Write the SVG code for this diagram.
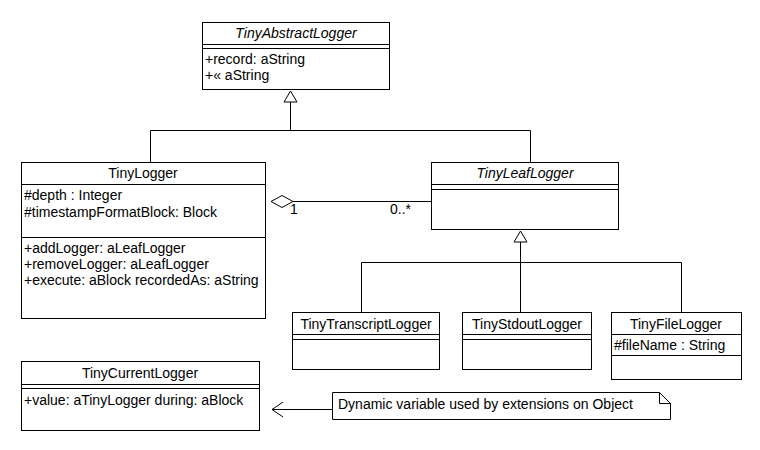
<svg xmlns="http://www.w3.org/2000/svg" width="760" height="450" viewBox="0 0 760 450">
<style>
.box{fill:#fff;stroke:#000;stroke-width:1}
.ln{fill:none;stroke:#000;stroke-width:1}
.t{font-family:"Liberation Sans",Arial,sans-serif;font-size:14px;fill:#000}
.c{text-anchor:middle}
.i{font-style:italic}
</style>
<rect width="760" height="450" fill="#fff"/>
<g id="connectors">
<path class="ln" d="M290.5,102 V130.5 M150.5,162 V130.5 H530.5 V162"/>
<polygon class="box" points="290.5,91 284,102 297,102"/>
<path class="ln" d="M520.5,242 V262.5 M361.5,312 V262.5 H681.5 V312 M520.5,262.5 V312"/>
<polygon class="box" points="520.5,231 514,242 527,242"/>
<path class="ln" d="M293,201.5 H431"/>
<polygon class="box" points="271,201.5 282,195.5 293,201.5 282,207.5"/>
<text class="t" x="290" y="214">1</text>
<text class="t" x="390" y="214">0..*</text>
<path class="ln" d="M332,409.5 H272 M283,402 L272,409.5 L283,417"/>
</g>
<g id="TinyAbstractLogger">
<rect class="box" x="202.5" y="22.5" width="187" height="67"/>
<path class="ln" d="M202.5,44.5 H389.5 M202.5,48.5 H389.5"/>
<text class="t c i" x="296" y="38">TinyAbstractLogger</text>
<text class="t" x="205" y="64">+record: aString</text>
<text class="t" x="205" y="80">+« aString</text>
</g>
<g id="TinyLogger">
<rect class="box" x="21.5" y="162.5" width="244" height="156"/>
<path class="ln" d="M21.5,184.5 H265.5 M21.5,237.5 H265.5"/>
<text class="t c" x="143" y="178">TinyLogger</text>
<text class="t" x="24" y="200">#depth : Integer</text>
<text class="t" x="24" y="217">#timestampFormatBlock: Block</text>
<text class="t" x="24" y="253">+addLogger: aLeafLogger</text>
<text class="t" x="24" y="269">+removeLogger: aLeafLogger</text>
<text class="t" x="24" y="285">+execute: aBlock recordedAs: aString</text>
</g>
<g id="TinyLeafLogger">
<rect class="box" x="431.5" y="162.5" width="187" height="67"/>
<path class="ln" d="M431.5,184.5 H618.5 M431.5,189.5 H618.5"/>
<text class="t c i" x="525" y="178">TinyLeafLogger</text>
</g>
<g id="TinyTranscriptLogger">
<rect class="box" x="292.5" y="312.5" width="147" height="57"/>
<path class="ln" d="M292.5,334.5 H439.5 M292.5,339.5 H439.5"/>
<text class="t c" x="366" y="329">TinyTranscriptLogger</text>
</g>
<g id="TinyStdoutLogger">
<rect class="box" x="462.5" y="312.5" width="129" height="57"/>
<path class="ln" d="M462.5,334.5 H591.5 M462.5,339.5 H591.5"/>
<text class="t c" x="527" y="329">TinyStdoutLogger</text>
</g>
<g id="TinyFileLogger">
<rect class="box" x="611.5" y="312.5" width="130" height="67"/>
<path class="ln" d="M611.5,334.5 H741.5 M611.5,355.5 H741.5"/>
<text class="t c" x="676" y="329">TinyFileLogger</text>
<text class="t" x="614" y="350">#fileName : String</text>
</g>
<g id="TinyCurrentLogger">
<rect class="box" x="21.5" y="361.5" width="238" height="69"/>
<path class="ln" d="M21.5,384.5 H259.5 M21.5,388.5 H259.5"/>
<text class="t c" x="140" y="378">TinyCurrentLogger</text>
<text class="t" x="24" y="405">+value: aTinyLogger during: aBlock</text>
</g>
<g id="note">
<path class="box" d="M332.5,392.5 H659.5 L670.5,403.5 V419.5 H332.5 Z"/>
<path class="ln" d="M659.5,392.5 V403.5 H670.5"/>
<text class="t" x="338" y="409">Dynamic variable used by extensions on Object</text>
</g>
</svg>
